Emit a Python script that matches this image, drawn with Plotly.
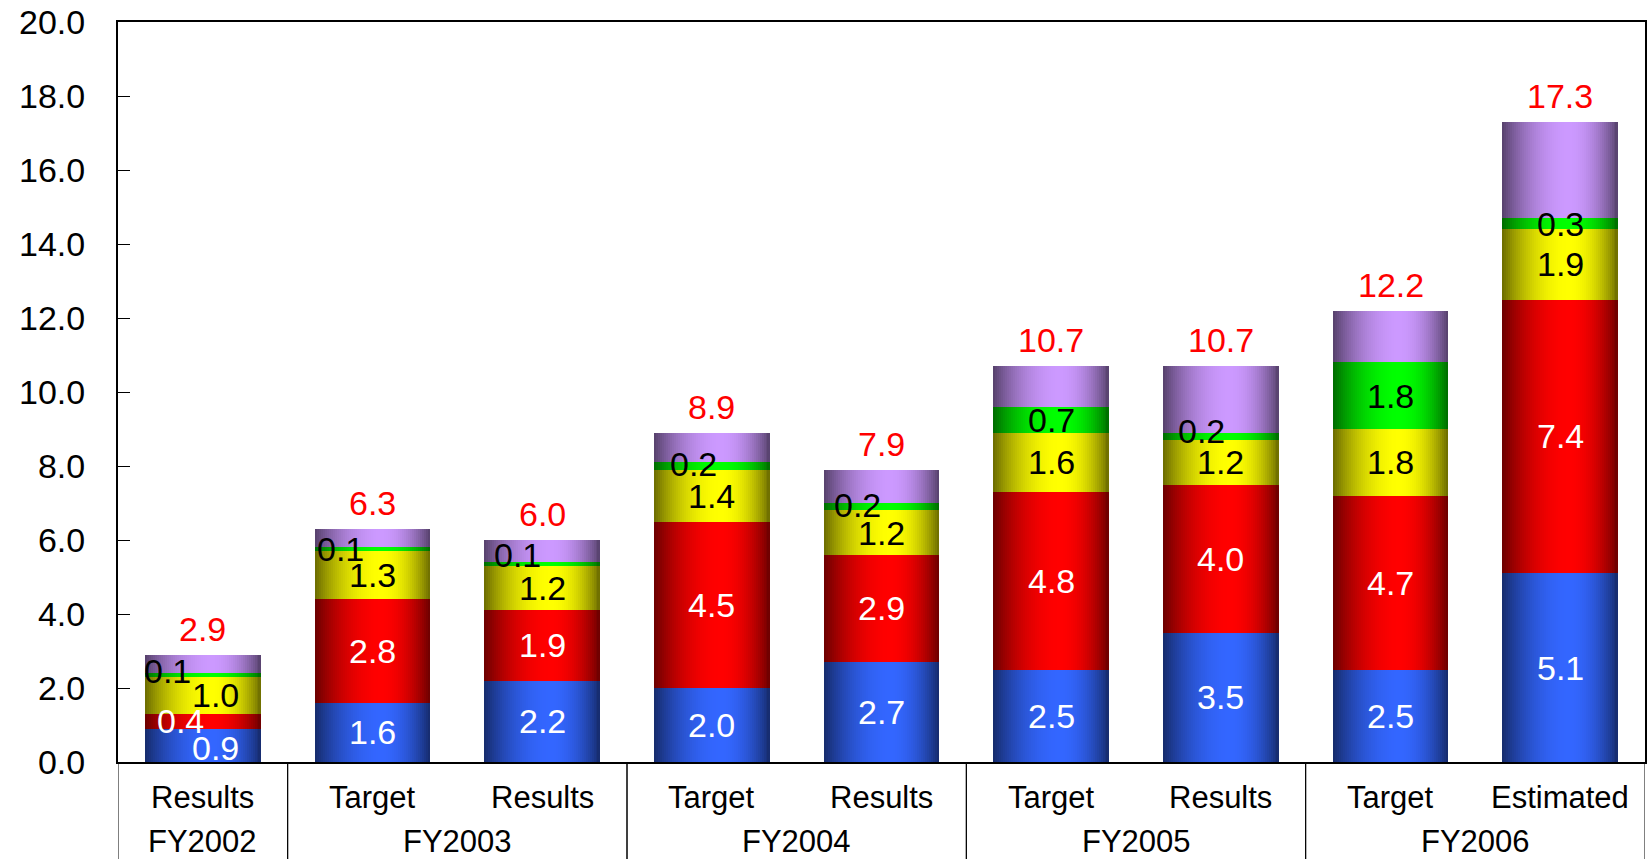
import plotly.graph_objects as go

# ---- data ----
years = ["FY2002", "FY2003", "FY2003", "FY2004", "FY2004", "FY2005", "FY2005", "FY2006", "FY2006"]
kinds = ["Results", "Target", "Results", "Target", "Results", "Target", "Results", "Target", "Estimated"]

blue = [0.9, 1.6, 2.2, 2.0, 2.7, 2.5, 3.5, 2.5, 5.1]
red = [0.4, 2.8, 1.9, 4.5, 2.9, 4.8, 4.0, 4.7, 7.4]
yellow = [1.0, 1.3, 1.2, 1.4, 1.2, 1.6, 1.2, 1.8, 1.9]
green = [0.1, 0.1, 0.1, 0.2, 0.2, 0.7, 0.2, 1.8, 0.3]
purple = [0.5, 0.5, 0.6, 0.8, 0.9, 1.1, 1.8, 1.4, 2.6]
totals = [2.9, 6.3, 6.0, 8.9, 7.9, 10.7, 10.7, 12.2, 17.3]

y_ticks = [0, 2, 4, 6, 8, 10, 12, 14, 16, 18, 20]

# ---- style ----
series = [
    ("s1", blue, (0x33, 0x66, 0xFF), "white", True),
    ("s2", red, (0xFF, 0x00, 0x00), "white", True),
    ("s3", yellow, (0xFF, 0xFF, 0x00), "black", True),
    ("s4", green, (0x00, 0xFF, 0x00), "black", True),
    ("s5", purple, (0xCC, 0x99, 0xFF), "black", False),
]
# label shifts (px) for crowded segment labels: (bar index, series index) -> (xshift, yshift)
label_shift = {
    (0, 0): (13, -3), (0, 1): (-22, 0), (0, 2): (13, 0), (0, 3): (-35, 4),
    (1, 3): (-32, 0), (2, 3): (-25, 9), (3, 3): (-18, 2), (4, 3): (-24, 2),
    (6, 3): (-19, 5),
}

FONT = "Liberation Sans, Arial, sans-serif"
BAR_W = 0.68
N = 58
PLOT_H = 859 - 19 - 97  # plot area height in px


def shade(rgb, t):
    peak = 0.58
    if t < peak:
        f = 1 - ((peak - t) / peak) ** 2
    else:
        f = 1 - ((t - peak) / (1 - peak)) ** 2
    k = 0.42 + 0.58 * f
    return "rgb(%d,%d,%d)" % tuple(int(round(c * k)) for c in rgb)


fig = go.Figure()
xpos = list(range(len(kinds)))
base = [0.0] * len(kinds)
annotations = []
for si, (name, vals, rgb, tcol, show_label) in enumerate(series):
    for k in range(N):
        t = (k + 0.5) / N
        fig.add_trace(go.Bar(
            x=xpos, y=vals, base=list(base),
            offset=-BAR_W / 2 + k * BAR_W / N,
            width=BAR_W - k * BAR_W / N,
            marker=dict(color=shade(rgb, t), line=dict(width=0)),
            name=name, showlegend=False, hoverinfo="skip",
        ))
    if show_label:
        for i, v in enumerate(vals):
            xs, ys = label_shift.get((i, si), (0, 0))
            annotations.append(dict(
                x=xpos[i], y=base[i] + v / 2, xref="x", yref="y",
                text="%.1f" % v, showarrow=False, xshift=xs, yshift=ys,
                font=dict(family=FONT, size=34, color=tcol),
            ))
    base = [b + v for b, v in zip(base, vals)]

for i, tot in enumerate(totals):
    annotations.append(dict(
        x=xpos[i], y=tot, xref="x", yref="y", text="%.1f" % tot, showarrow=False,
        yanchor="bottom", yshift=5,
        font=dict(family=FONT, size=34, color="#FF0000"),
    ))

# two-level category labels and group dividers
row1 = -36 / PLOT_H
row2 = -80 / PLOT_H
bottom = -100 / PLOT_H
shapes = []
for i, kd in enumerate(kinds):
    annotations.append(dict(
        x=xpos[i], y=row1, xref="x", yref="paper", text=kd, showarrow=False,
        yanchor="middle", font=dict(family=FONT, size=31, color="black"),
    ))
groups = []
for i, yr in enumerate(years):
    if not groups or groups[-1][0] != yr:
        groups.append([yr, i, i])
    else:
        groups[-1][2] = i
for yr, a, b in groups:
    annotations.append(dict(
        x=(xpos[a] + xpos[b]) / 2, y=row2, xref="x", yref="paper", text=yr,
        showarrow=False, yanchor="middle",
        font=dict(family=FONT, size=31, color="black"),
    ))
    for edge in (xpos[a] - 0.5, xpos[b] + 0.5):
        shapes.append(dict(type="line", xref="x", yref="paper", x0=edge, x1=edge,
                           y0=0, y1=bottom, line=dict(color="black", width=1)))

fig.update_layout(
    width=1650, height=859,
    margin=dict(l=118, r=3, t=19, b=97),
    paper_bgcolor="white", plot_bgcolor="white",
    barmode="overlay", bargap=0,
    annotations=annotations, shapes=shapes,
    font=dict(family=FONT, color="black"),
)
fig.update_yaxes(
    range=[0, 20], tickvals=y_ticks, tickformat=".1f",
    ticks="inside", ticklen=12, tickwidth=1, tickcolor="black",
    showline=True, linewidth=2, linecolor="black", mirror=True,
    showgrid=False, zeroline=False, ticklabelstandoff=24,
    ticklabeloverflow="allow",
    tickfont=dict(family=FONT, size=34, color="black"),
)
fig.update_xaxes(
    range=[-0.5, len(kinds) - 0.5], showticklabels=False, ticks="",
    showline=True, linewidth=2, linecolor="black", mirror=True,
    showgrid=False, zeroline=False,
)

fig.write_html("out.html", config={"displayModeBar": False},
               post_script="document.body.style.margin='0';")
